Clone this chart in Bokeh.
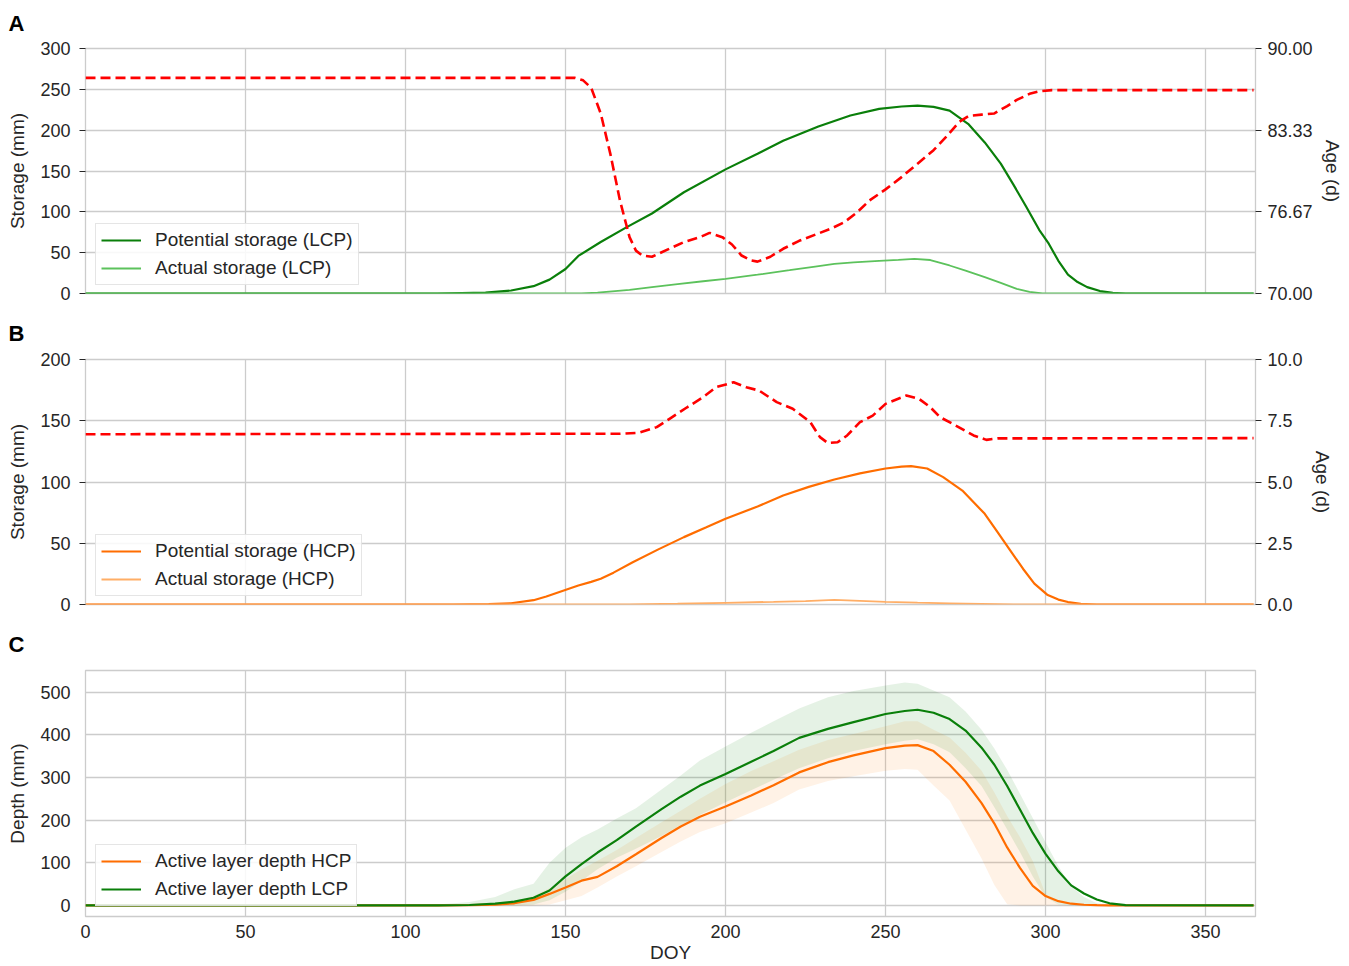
from bokeh.plotting import figure
from bokeh.layouts import column
from bokeh.models import (Range1d, LinearAxis, FixedTicker, NumeralTickFormatter,
                          Legend, LegendItem)
from bokeh.embed import file_html
from bokeh.resources import INLINE

# ---------------- data ----------------
x_ticks = [0, 50, 100, 150, 200, 250, 300, 350]

# Panel A (LCP)
a_pot_doy = [0, 110, 125, 133, 140, 145, 150, 154, 161, 169, 177, 187, 200, 210, 218, 229, 239, 248, 255, 260,
             265, 270, 276, 281, 286, 290, 294, 298, 301, 304, 307, 310, 313, 317, 321, 325, 365]
a_pot_lcp = [0, 0, 1, 3.7, 9, 17, 30, 46, 63, 81, 98, 124, 152, 171, 187, 204.5, 218, 226, 229, 230,
             228.5, 224, 207, 185, 159, 133, 106, 78, 61, 40, 23, 14, 7.8, 3, 0.8, 0, 0]

a_act_doy = [0, 155, 160, 170, 177, 185, 193, 200, 210, 220, 228, 234, 240, 248, 254, 259, 264, 270, 275,
             281, 286, 291, 295, 299, 365]
a_act_lcp = [0, 0, 1, 4.5, 7.8, 11.5, 15, 18, 23, 28.5, 33, 36.3, 38, 40, 41.2, 42.4, 41, 34.3, 28,
             20, 13, 5.7, 2, 0, 0]

a_age_doy = [0, 153, 155.5, 158, 161, 164, 167, 170, 172, 174, 177, 182, 187, 192, 195, 199, 202, 205, 208, 210,
             214, 218, 223, 229, 233, 237, 241, 245, 250, 255, 260, 265, 269, 273, 276, 280, 284, 288, 291, 295,
             298, 302, 365]
a_age_lcp = [87.6, 87.6, 87.4, 86.8, 84.7, 81.4, 77.6, 74.6, 73.5, 73.1, 73.0, 73.6, 74.2, 74.6, 74.95, 74.6,
             74.0, 73.1, 72.7, 72.6, 73.0, 73.65, 74.3, 74.9, 75.3, 75.8, 76.6, 77.6, 78.5, 79.5, 80.6, 81.7,
             82.8, 84.0, 84.5, 84.6, 84.7, 85.3, 85.8, 86.3, 86.5, 86.6, 86.6]

# Panel B (HCP)
b_pot_doy = [0, 115, 126, 133, 140, 144, 149, 154, 158, 161, 165, 171, 179, 187, 194, 200, 210, 218, 226, 234,
             242, 250, 255, 258, 263, 268, 274, 281, 285, 289, 293, 296.5, 300.5, 304, 307, 311, 316, 365]
b_pot_hcp = [0, 0, 0.3, 1, 3.5, 6.5, 11, 15.5, 18.5, 21, 26, 34.5, 45, 55, 63, 70, 80, 89, 96, 102,
             107, 111, 112.5, 113, 111, 104, 93, 74, 59, 44, 29, 17, 8, 4, 2, 0.5, 0, 0]

b_act_doy = [0, 170, 185, 200, 215, 225, 234, 242, 250, 260, 270, 280, 290, 365]
b_act_hcp = [0, 0, 0.6, 1.4, 2.2, 2.8, 3.8, 3.0, 2.2, 1.5, 1.0, 0.5, 0, 0]

b_age_doy = [0, 167, 173, 178.5, 182.5, 188, 193, 197, 202.5, 206.5, 210.5, 216, 221, 226.5, 229.5, 232, 235,
             238, 242, 246, 250, 253, 256.5, 260.5, 264, 267, 271, 277.5, 281.5, 285, 365]
b_age_hcp = [6.95, 6.97, 7.01, 7.24, 7.58, 8.05, 8.46, 8.87, 9.07, 8.87, 8.73, 8.26, 7.99, 7.44, 6.83, 6.59,
             6.62, 6.9, 7.44, 7.71, 8.19, 8.35, 8.53, 8.39, 8.05, 7.65, 7.37, 6.9, 6.72, 6.78, 6.79]

# Panel C (active layer depth)
c_doy = [0, 110, 120, 128, 134, 140, 145, 150, 155, 160, 166, 172, 180, 186, 192, 200, 208, 215, 223, 232,
         240, 250, 256, 260, 265, 270, 275, 280, 284, 288, 292, 296, 300, 304, 308, 312, 316, 320, 325, 365]
ald_lcp = [0, 0, 1, 4, 9, 18, 35, 68, 97, 124, 153, 185, 226, 255, 281, 308, 337, 362, 393, 414,
           430, 449, 456, 459, 452, 437, 410, 370, 330, 280, 225, 170, 121, 80, 47, 28, 14, 5, 0.5, 0]
ald_hcp = [0, 0, 0.5, 2, 5, 13, 27, 42, 58, 67, 92, 120, 158, 185, 208, 232, 258, 282, 312, 336,
           352, 369, 375, 376, 362, 330, 290, 240, 192, 136, 88, 46, 22, 10, 4, 1.5, 0.5, 0, 0, 0]
lcp_hi = [0, 2, 8, 20, 38, 51, 100, 135, 160, 178, 204, 228, 272, 305, 340, 373, 405, 432, 462, 488,
          503, 516, 523, 520, 504, 488, 455, 412, 368, 318, 262, 205, 148, 92, 45, 20, 5, 1, 0, 0]
lcp_lo = [0, 0, 0, 0, 0, 2, 12, 32, 58, 85, 112, 133, 163, 188, 212, 242, 270, 295, 322, 345,
          362, 378, 386, 390, 378, 359, 322, 280, 230, 178, 125, 68, 20, 2, 0, 0, 0, 0, 0, 0]
hcp_hi = [0, 0, 1, 4, 10, 22, 40, 62, 85, 105, 130, 158, 195, 222, 250, 285, 315, 338, 365, 388,
          402, 420, 432, 432, 412, 394, 358, 316, 265, 210, 160, 104, 27, 3, 0, 0, 0, 0, 0, 0]
hcp_lo = [0, 0, 0, 0, 0, 0, 2, 12, 22, 42, 68, 92, 125, 150, 172, 193, 218, 240, 272, 292,
          303, 316, 320, 318, 281, 246, 178, 110, 48, 3, 0, 0, 0, 0, 0, 0, 0, 0, 0, 0]

# ---------------- style ----------------
FONT = "Liberation Sans"
TXT = "#262626"
GRID = "#cccccc"
DKGREEN = "#0a7f0a"
LTGREEN = "#5cc25c"
ORANGE = "#ff6d00"
LTORANGE = "#ffae66"
RED = "#ff0000"
W = 1349
LEFT = 85
FRAME_W = 1170


def make_fig(height, yr, top, bottom, letter, letter_standoff):
    p = figure(width=W, height=height, x_range=Range1d(0, 365.6), y_range=Range1d(*yr),
               output_backend="svg", toolbar_location=None,
               min_border_left=LEFT, min_border_right=W - LEFT - FRAME_W,
               min_border_top=top, min_border_bottom=bottom)
    p.outline_line_color = GRID
    p.outline_line_width = 1.3
    p.background_fill_color = "white"
    p.border_fill_color = "white"
    p.xaxis.ticker = FixedTicker(ticks=x_ticks)
    p.xgrid.ticker = FixedTicker(ticks=x_ticks)
    p.grid.grid_line_color = GRID
    p.grid.grid_line_width = 1.3
    p.title.text = letter
    p.title.align = "left"
    p.title.vertical_align = "top"
    p.title.offset = -77
    p.title.standoff = letter_standoff
    p.title.text_font = FONT
    p.title.text_font_size = "22px"
    p.title.text_font_style = "bold"
    p.title.text_color = "black"
    return p


def style_axis(ax, tick_out, standoff):
    ax.axis_line_color = None
    ax.major_tick_line_color = TXT
    ax.major_tick_line_width = 1.2
    ax.major_tick_out = tick_out
    ax.major_tick_in = 0
    ax.minor_tick_line_color = None
    ax.major_label_text_font = FONT
    ax.major_label_text_font_size = "18px"
    ax.major_label_text_color = TXT
    ax.major_label_standoff = standoff
    ax.axis_label_text_font = FONT
    ax.axis_label_text_font_size = "19px"
    ax.axis_label_text_font_style = "normal"
    ax.axis_label_text_color = TXT
    ax.axis_label_standoff = 9


def style_legend(lg, loc):
    lg.location = loc
    lg.border_line_color = GRID
    lg.border_line_width = 1.2
    lg.background_fill_alpha = 0.85
    lg.label_text_font = FONT
    lg.label_text_font_size = "19px"
    lg.label_text_color = TXT
    lg.glyph_width = 40
    lg.glyph_height = 20
    lg.label_height = 20
    lg.label_standoff = 14
    lg.spacing = 6
    lg.padding = 5
    lg.margin = 0


# ---------------- Panel A ----------------
pA = make_fig(309, (0, 300), 48, 16, "A", 21)
pA.xaxis.visible = False
pA.yaxis.ticker = FixedTicker(ticks=[0, 50, 100, 150, 200, 250, 300])
pA.yaxis.axis_label = "Storage (mm)"
style_axis(pA.yaxis[0], 6, 9)
pA.extra_y_ranges = {"age": Range1d(70, 90)}
rA = LinearAxis(y_range_name="age", axis_label="Age (d)",
                ticker=FixedTicker(ticks=[70, 76.6667, 83.3333, 90]),
                formatter=NumeralTickFormatter(format="0.00"))
style_axis(rA, 6, 6)
rA.axis_label_standoff = 6
pA.add_layout(rA, "right")

la1 = pA.line(a_pot_doy, a_pot_lcp, line_color=DKGREEN, line_width=2.2)
la2 = pA.line(a_act_doy, a_act_lcp, line_color=LTGREEN, line_width=1.8)
pA.line(a_age_doy, a_age_lcp, y_range_name="age", line_color=RED, line_width=2.6, line_dash="10 5")
lgA = Legend(items=[LegendItem(label="Potential storage (LCP)", renderers=[la1]),
                    LegendItem(label="Actual storage (LCP)", renderers=[la2])])
style_legend(lgA, (10, 8))
pA.add_layout(lgA)

# ---------------- Panel B ----------------
pB = make_fig(310, (0, 200), 50, 15, "B", 23)
pB.xaxis.visible = False
pB.yaxis.ticker = FixedTicker(ticks=[0, 50, 100, 150, 200])
pB.yaxis.axis_label = "Storage (mm)"
style_axis(pB.yaxis[0], 6, 9)
pB.extra_y_ranges = {"age": Range1d(0, 10)}
rB = LinearAxis(y_range_name="age", axis_label="Age (d)",
                ticker=FixedTicker(ticks=[0, 2.5, 5, 7.5, 10]),
                formatter=NumeralTickFormatter(format="0.0"))
style_axis(rB, 6, 6)
rB.axis_label_standoff = 6
pB.add_layout(rB, "right")

lb1 = pB.line(b_pot_doy, b_pot_hcp, line_color=ORANGE, line_width=2.2)
lb2 = pB.line(b_act_doy, b_act_hcp, line_color=LTORANGE, line_width=1.8)
pB.line(b_age_doy, b_age_hcp, y_range_name="age", line_color=RED, line_width=2.6, line_dash="10 5")
lgB = Legend(items=[LegendItem(label="Potential storage (HCP)", renderers=[lb1]),
                    LegendItem(label="Actual storage (HCP)", renderers=[lb2])])
style_legend(lgB, (10, 8))
pB.add_layout(lgB)

# ---------------- Panel C ----------------
pC = make_fig(347, (-26, 551), 51, 50, "C", 24)
pC.yaxis.ticker = FixedTicker(ticks=[0, 100, 200, 300, 400, 500])
pC.yaxis.axis_label = "Depth (mm)"
style_axis(pC.yaxis[0], 0, 15)
pC.xaxis.axis_label = "DOY"
style_axis(pC.xaxis[0], 0, 8)
pC.xaxis.axis_label_standoff = 1

pC.varea(x=c_doy, y1=hcp_lo, y2=hcp_hi, fill_color="#ff7f0e", fill_alpha=0.1)
pC.varea(x=c_doy, y1=lcp_lo, y2=lcp_hi, fill_color="#008000", fill_alpha=0.1)
lc1 = pC.line(c_doy, ald_hcp, line_color=ORANGE, line_width=2.2)
lc2 = pC.line(c_doy, ald_lcp, line_color=DKGREEN, line_width=2.2)
lgC = Legend(items=[LegendItem(label="Active layer depth HCP", renderers=[lc1]),
                    LegendItem(label="Active layer depth LCP", renderers=[lc2])])
style_legend(lgC, (10, 10))
pC.add_layout(lgC)

layout = column(pA, pB, pC, spacing=0)
open("out.html", "w").write(file_html(layout, INLINE))
